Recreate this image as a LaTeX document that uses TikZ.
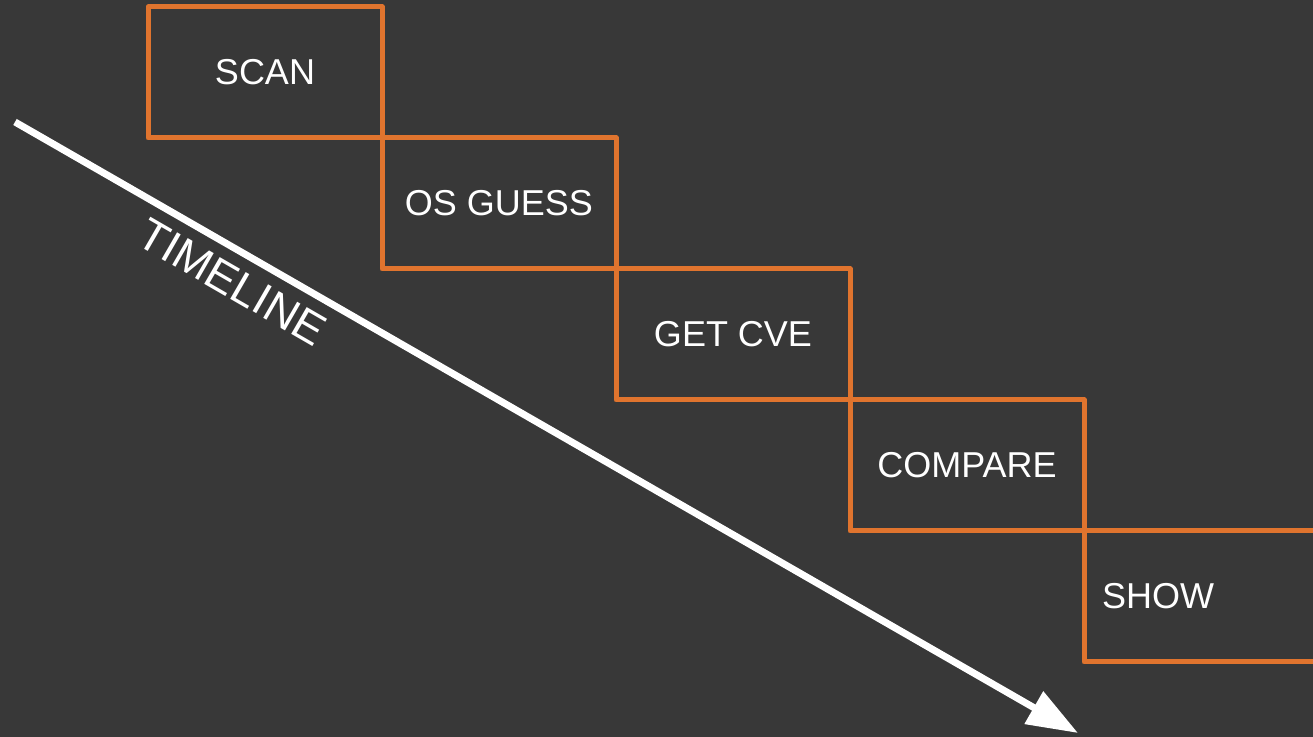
\documentclass[tikz,border=0pt]{standalone}
\usepackage{fontspec}
\setmainfont{Liberation Sans}
\usepackage{tikz}
\usetikzlibrary{arrows.meta,positioning}
\definecolor{bgdark}{RGB}{56,56,56}
\definecolor{stageorange}{RGB}{224,116,46}

\begin{document}
\begin{tikzpicture}[x = .5pt, y = -.5pt,
  stage/.style = {draw = stageorange, line width = 2.5pt, line join = round,
    minimum width = 117pt, minimum height = 65.5pt, inner sep = 0pt,
    outer sep = 0pt, text = white, font = \fontsize{18}{20}\selectfont}]
\fill[bgdark] (0,0) rectangle (1313,737);
\useasboundingbox (0,0) rectangle (1313,737);
\clip (0,0) rectangle (1313,737);
\node[stage, anchor = north west] (scan) at (148,7) {SCAN};
\node[stage, below right = 0pt and 0pt of scan] (osguess) {OS GUESS};
\node[stage, below right = 0pt and 0pt of osguess] (getcve) {GET CVE};
\node[stage, below right = 0pt and 0pt of getcve] (compare) {COMPARE};
\node[stage, below right = 0pt and 0pt of compare, inner xsep = 9pt,
  text width = 132pt, align = left] (show) {SHOW};
\coordinate (tstart) at (15,122);
\coordinate (tend) at (1078,733);
\draw[white, line width = 3.5pt, -{Triangle[length = 25.5pt, width = 18pt]}] (tstart) -- (tend);
\node[text = white, font = \fontsize{22.5}{24}\selectfont, rotate = -30] (timeline) at (232,282) {TIMELINE};
\end{tikzpicture}
\end{document}
